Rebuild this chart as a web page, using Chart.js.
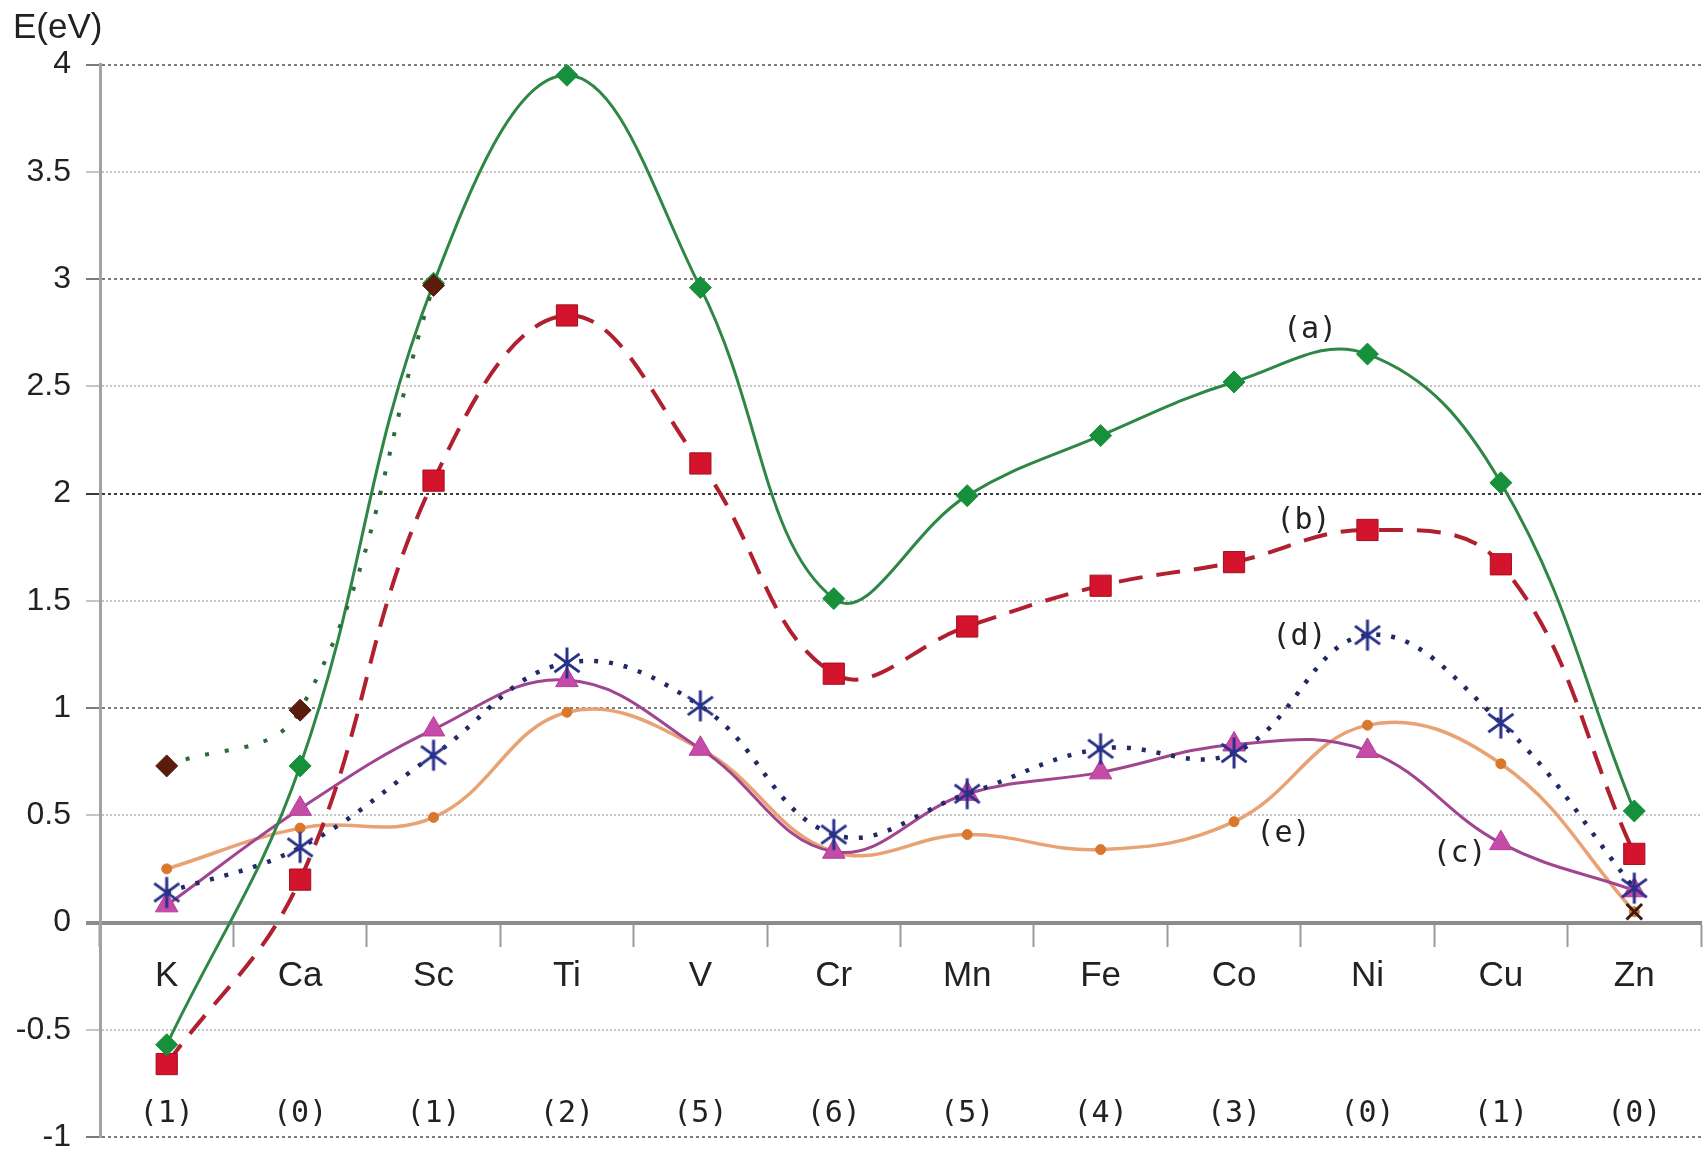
<!DOCTYPE html>
<html>
<head>
<meta charset="utf-8">
<script src="https://cdn.jsdelivr.net/npm/chart.js@4.4.1/dist/chart.umd.min.js"></script>
<style>
  html, body { margin: 0; padding: 0; background: #ffffff; }
  #wrap { width: 1708px; height: 1153px; }
</style>
</head>
<body>
<div id="wrap"><canvas id="chart" width="1708" height="1153"></canvas></div>
<script>
// 3d transition metals (plus K, Ca) along the x axis
const elements = ['K', 'Ca', 'Sc', 'Ti', 'V', 'Cr', 'Mn', 'Fe', 'Co', 'Ni', 'Cu', 'Zn'];
// number of unpaired electrons, printed under each element
const unpairedCounts = ['(1)', '(0)', '(1)', '(2)', '(5)', '(6)', '(5)', '(4)', '(3)', '(0)', '(1)', '(0)'];

// energies in eV
const seriesA = [-0.57, 0.73, 2.98, 3.95, 2.96, 1.51, 1.99, 2.27, 2.52, 2.65, 2.05, 0.52];
const seriesB = [-0.66, 0.20, 2.06, 2.83, 2.14, 1.16, 1.38, 1.57, 1.68, 1.83, 1.67, 0.32];
const seriesC = [0.08, 0.53, 0.90, 1.13, 0.81, 0.33, 0.60, 0.70, 0.83, 0.80, 0.37, 0.15];
const seriesD = [0.14, 0.35, 0.78, 1.21, 1.01, 0.41, 0.60, 0.81, 0.79, 1.34, 0.93, 0.16];
const seriesE = [0.25, 0.44, 0.49, 0.98, 0.81, 0.33, 0.41, 0.34, 0.47, 0.92, 0.74, 0.05];
const seriesF = [0.73, 0.99, 2.97, null, null, null, null, null, null, null, null, 0.05];

const yTicks = [-1, -0.5, 0, 0.5, 1, 1.5, 2, 2.5, 3, 3.5, 4];

// curve names and where they sit (category index, energy)
const curveTags = ['(a)', '(b)', '(c)', '(d)', '(e)'];
const tagAnchors = [[8.57, 2.76], [8.52, 1.87], [9.69, 0.32], [8.49, 1.33], [8.37, 0.41]];

// six-spoke asterisk marker
function makeStar(size, color, lw) {
  const c = document.createElement('canvas');
  c.width = size; c.height = size;
  const g = c.getContext('2d');
  g.strokeStyle = color;
  g.lineWidth = lw;
  const m = size / 2, r = size / 2 - 1.5;
  const a = Math.PI / 5;
  g.beginPath();
  g.moveTo(m, m - r); g.lineTo(m, m + r);
  g.moveTo(m - r * Math.cos(a), m - r * Math.sin(a)); g.lineTo(m + r * Math.cos(a), m + r * Math.sin(a));
  g.moveTo(m + r * Math.cos(a), m - r * Math.sin(a)); g.lineTo(m - r * Math.cos(a), m + r * Math.sin(a));
  g.stroke();
  return c;
}
const starMarker = makeStar(34, '#28318a', 3);

const tagPlugin = {
  id: 'curveTags',
  afterDatasetsDraw(chart) {
    const { ctx, scales: { x, y } } = chart;
    ctx.save();
    ctx.font = '30px "DejaVu Sans Mono"';
    ctx.fillStyle = '#222222';
    ctx.textAlign = 'center';
    ctx.textBaseline = 'middle';
    curveTags.forEach((t, i) => {
      ctx.fillText(t, x.getPixelForValue(tagAnchors[i][0]), y.getPixelForValue(tagAnchors[i][1]));
    });
    ctx.restore();
  }
};

const gridColor = (v) => {
  if (v === 0) return 'rgba(0,0,0,0)';
  if (v === 2) return '#3a3a3a';
  if (Number.isInteger(v)) return '#7c7c7c';
  return '#c6c6c6';
};

// axes that sit inside the plot should not push the plot edges inward
const noSidePadding = (s) => { s.paddingLeft = 0; s.paddingRight = 0; };

new Chart(document.getElementById('chart'), {
  type: 'line',
  data: {
    labels: elements,
    datasets: [
      {
        label: '(f)', data: seriesF, xAxisID: 'x', yAxisID: 'y', order: 0,
        borderColor: '#2b6b3a', borderWidth: 4, borderDash: [4, 16], tension: 0.4, spanGaps: false,
        pointStyle: (c) => c.dataIndex === 11 ? 'crossRot' : 'rectRot',
        pointRadius: 11,
        pointBackgroundColor: '#5a1c0c',
        pointBorderColor: (c) => c.dataIndex === 11 ? '#3a1a12' : '#5a1c0c',
        pointBorderWidth: (c) => c.dataIndex === 11 ? 3 : 1
      },
      {
        label: '(a)', data: seriesA, xAxisID: 'x', yAxisID: 'y', order: 1,
        borderColor: '#2f8746', borderWidth: 3, tension: 0.4,
        pointStyle: 'rectRot', pointRadius: 11,
        pointBackgroundColor: '#17903c', pointBorderColor: '#17903c', pointBorderWidth: 1
      },
      {
        label: '(b)', data: seriesB, xAxisID: 'x', yAxisID: 'y', order: 2,
        borderColor: '#b0202e', borderWidth: 4, borderDash: [24, 14], tension: 0.4,
        pointStyle: 'rect', pointRadius: 15,
        pointBackgroundColor: '#d3142c', pointBorderColor: '#a51020', pointBorderWidth: 1
      },
      {
        label: '(d)', data: seriesD, xAxisID: 'x', yAxisID: 'y', order: 3,
        borderColor: '#1f2a66', borderWidth: 4.5, borderDash: [4, 11], tension: 0.4,
        pointStyle: starMarker, pointRadius: 16
      },
      {
        label: '(c)', data: seriesC, xAxisID: 'x', yAxisID: 'y', order: 4,
        borderColor: '#a04690', borderWidth: 3, tension: 0.4,
        pointStyle: 'triangle', pointRadius: 13,
        pointBackgroundColor: '#c64aa8', pointBorderColor: '#b23f98', pointBorderWidth: 1
      },
      {
        label: '(e)', data: seriesE, xAxisID: 'x', yAxisID: 'y', order: 5,
        borderColor: '#e8a274', borderWidth: 3.5, tension: 0.4,
        pointStyle: 'circle', pointRadius: 5,
        pointBackgroundColor: '#d9782d', pointBorderColor: '#d9782d', pointBorderWidth: 1
      }
    ]
  },
  options: {
    responsive: false,
    animation: false,
    events: [],
    layout: { autoPadding: false, padding: { left: 13, right: 7, top: 0, bottom: 16 } },
    plugins: {
      legend: { display: false },
      tooltip: { enabled: false },
      title: {
        display: true, text: 'E(eV)', align: 'start', color: '#222222',
        font: { family: 'Liberation Sans', size: 35, weight: 'normal', lineHeight: 1.2 },
        padding: { top: 7, bottom: 15.5 }
      }
    },
    scales: {
      x: {
        type: 'category', offset: true, position: { y: 0 },
        afterFit: noSidePadding,
        grid: { drawOnChartArea: false, offset: true, tickLength: 22, tickColor: '#9a9a9a', tickWidth: 2 },
        border: { display: true, color: '#8c8c8c', width: 4 },
        ticks: {
          color: '#222222', padding: 11, autoSkip: false, maxRotation: 0,
          font: { family: 'Liberation Sans', size: 35 }
        }
      },
      x2: {
        type: 'category', axis: 'x', labels: unpairedCounts, offset: true, position: { y: -0.76 },
        afterFit: noSidePadding,
        grid: { display: false },
        border: { display: false },
        ticks: {
          color: '#222222', padding: 3, autoSkip: false, maxRotation: 0,
          font: { family: 'DejaVu Sans Mono', size: 30 }
        }
      },
      y: {
        type: 'linear', min: -1, max: 4,
        afterFit: (s) => { s.width = 87; s.paddingBottom = 0; s.paddingTop = 0; },
        afterBuildTicks: (s) => { s.ticks = yTicks.map(v => ({ value: v })); },
        ticks: {
          color: '#222222', padding: 15,
          font: { family: 'Liberation Sans', size: 32, lineHeight: 1.0 },
          callback: (v) => String(v)
        },
        grid: {
          color: (c) => gridColor(c.tick ? c.tick.value : null),
          lineWidth: 2,
          tickLength: 14,
          tickColor: (c) => (c.tick && c.tick.value === 0) ? '#8c8c8c' : gridColor(c.tick ? c.tick.value : null),
          tickWidth: (c) => (c.tick && c.tick.value === 0) ? 4 : 2
        },
        border: {
          display: true, color: '#a3a3a3', width: 3,
          dash: (c) => (c.tick && Number.isInteger(c.tick.value)) ? [3, 3] : [2, 2]
        }
      }
    }
  },
  plugins: [tagPlugin]
});
</script>
</body>
</html>
